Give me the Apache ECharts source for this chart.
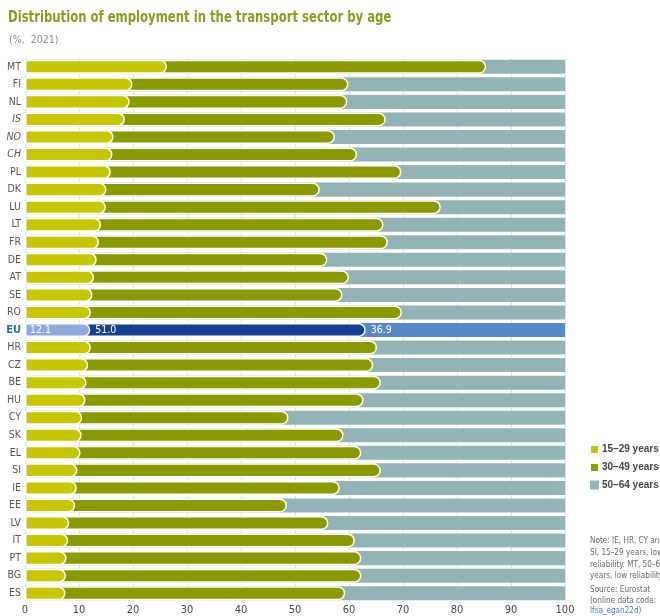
<!DOCTYPE html>
<html>
<head>
<meta charset="utf-8">
<script src="https://cdn.jsdelivr.net/npm/echarts@6/dist/echarts.min.js"></script>
<style>
html,body{margin:0;padding:0;background:#fff;}
#c{width:660px;height:616px;}
</style>
</head>
<body>
<div id="c"></div>
<script>
const categories = ['MT','FI','NL','IS','NO','CH','PL','DK','LU','LT','FR','DE','AT','SE','RO','EU','HR','CZ','BE','HU','CY','SK','EL','SI','IE','EE','LV','IT','PT','BG','ES'];
const age15_29 = [26.3,19.9,19.4,18.5,16.4,16.2,15.9,15.1,15.0,14.1,13.7,13.3,12.8,12.5,12.2,12.1,12.2,11.7,11.4,11.2,10.6,10.5,10.3,9.7,9.6,9.3,8.2,8.0,7.7,7.6,7.5];
const age30_49 = [59.1,40.0,40.3,48.3,41.0,45.3,53.8,39.5,62.0,52.3,53.5,42.7,47.2,46.3,57.6,51.0,53.0,52.8,54.5,51.5,38.2,48.5,52.0,56.2,48.7,39.2,48.0,53.1,54.6,54.7,51.8];
const age50_64 = [14.6,40.1,40.3,33.2,42.6,38.5,30.3,45.4,23.0,33.6,32.8,44.0,40.0,41.2,30.2,36.9,34.8,35.5,34.1,37.3,51.2,41.0,37.7,34.1,41.7,51.5,43.8,38.9,37.7,37.7,40.7];
const xTicks = [0,10,20,30,40,50,60,70,80,90,100];
const seriesNames = ['15–29 years','30–49 years','50–64 years'];
const nonEU = ['IS','NO','CH'];

const colors = ['#c6c700','#8b9a00','#93b4b7'];
const euColors = ['#8eaadc','#153f92','#5788c7'];
const EU_IDX = categories.indexOf('EU');

const cum2 = age15_29.map((v,i)=>+(v+age30_49[i]).toFixed(1));
const cum3 = age15_29.map((v,i)=>+(v+age30_49[i]+age50_64[i]).toFixed(1));

function items(arr, k){
  return arr.map((v,i)=> i===EU_IDX ? {value:v, itemStyle:{color:euColors[k]}} : v);
}
function labelItems(arr){
  return arr.map((v,i)=> i===EU_IDX ? {value:v, label:{show:true}} : v);
}

const radius = [0,7,7,0];
const chart = echarts.init(document.getElementById('c'), null, {renderer:'canvas'});
const baseFont = "'DejaVu Sans Condensed','Liberation Sans',sans-serif";
const narrowFont = "'Liberation Sans','DejaVu Sans Condensed',sans-serif";

const option = {
  animation:false,
  backgroundColor:'#fff',
  legend:{
    orient:'vertical', left:584, top:439,
    data:seriesNames,
    itemWidth:9, itemHeight:9, itemGap:7,
    icon:'rect',
    textStyle:{color:'#444', fontSize:10, fontWeight:'bold', fontFamily:narrowFont, padding:[0,0,0,-2]},
    selectedMode:false
  },
  grid:{left:25, right:95, top:58, bottom:13, containLabel:false},
  xAxis:{
    type:'value', min:0, max:100, interval:10,
    axisLine:{show:false}, axisTick:{show:false},
    splitLine:{show:true, lineStyle:{color:'#e2e2e2', width:1}},
    axisLabel:{color:'#444', fontSize:11, margin:3, fontFamily:baseFont,
      formatter:v=> xTicks.includes(v) ? String(v) : ''}
  },
  yAxis:{
    type:'category', data:categories, inverse:true,
    axisLine:{show:false}, axisTick:{show:false},
    axisLabel:{
      margin:4, color:'#555', fontSize:10.5, fontFamily:baseFont,
      formatter:v=> v==='EU' ? '{eu|EU}' : (nonEU.includes(v) ? '{it|'+v+'}' : v),
      rich:{
        eu:{color:'#2a6ab4', fontWeight:'bold', fontSize:11, fontFamily:baseFont},
        it:{fontStyle:'italic', color:'#555', fontSize:10.5, fontFamily:baseFont}
      }
    }
  },
  series:[
    {name:seriesNames[2], type:'bar', data:items(cum3,2), barGap:'-100%', barCategoryGap:'20%',
      itemStyle:{color:colors[2]}, z:2},
    {name:seriesNames[1], type:'bar', data:items(cum2,1), barGap:'-100%', barCategoryGap:'20%',
      itemStyle:{color:colors[1], borderRadius:radius, borderColor:'#fff', borderWidth:1.5}, z:3},
    {name:seriesNames[0], type:'bar', data:items(age15_29,0), barGap:'-100%', barCategoryGap:'20%',
      itemStyle:{color:colors[0], borderRadius:radius, borderColor:'#fff', borderWidth:1.5}, z:4},
    ...[age15_29, age30_49, age50_64].map((arr,k)=>({
      name:'lbl'+k, type:'bar', stack:'lbl', data:labelItems(arr), barGap:'-100%', barCategoryGap:'20%',
      itemStyle:{color:'rgba(0,0,0,0)'}, z:5, silent:true,
      label:{show:false, position:'insideLeft', distance:5, color:'#fff', fontSize:10.5,
        fontFamily:baseFont, formatter:p=>p.value.toFixed(1)}
    }))
  ],
  graphic:[
    {type:'text', x:8, y:10, scaleX:0.81, style:{
      text:'Distribution of employment in the transport sector by age',
      fill:'#8a9b1e', fontSize:16, fontWeight:'bold', fontFamily:baseFont}},
    {type:'text', x:9, y:35, style:{
      text:'(%,  2021)', fill:'#8c8c8c', fontSize:10.5, fontFamily:baseFont}},
    {type:'text', x:590, y:535, scaleX:0.9, style:{
      text:'Note: IE, HR, CY and\nSI, 15–29 years, low\nreliability. MT, 50–64\nyears, low reliability.',
      fill:'#666', fontSize:9, lineHeight:11.7, fontFamily:baseFont}},
    {type:'text', x:590, y:584, scaleX:0.9, style:{
      text:'Source: Eurostat\n(online data code:',
      fill:'#666', fontSize:9, lineHeight:11, fontFamily:baseFont}},
    {type:'text', x:590, y:606, scaleX:0.9, style:{
      text:'lfsa_egan22d)',
      fill:'#4a7cc0', fontSize:9, fontFamily:baseFont}}
  ]
};
chart.setOption(option);
</script>
</body>
</html>
